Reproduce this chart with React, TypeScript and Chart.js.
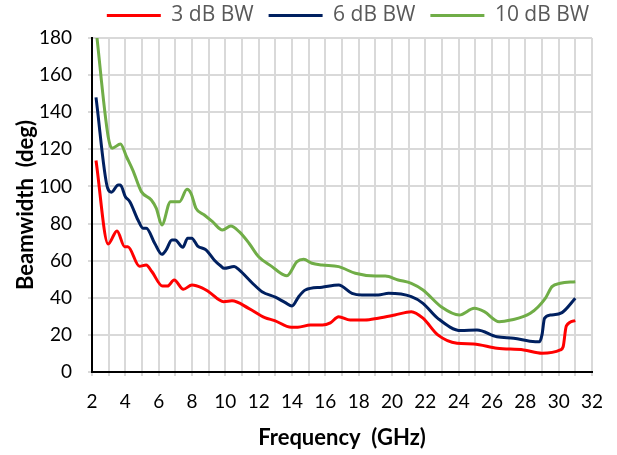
import React, { useEffect, useRef } from "react";
import { Chart, registerables } from "chart.js";

Chart.register(...registerables);

// 3 dB beamwidth
const freq3 = [2.24, 2.97, 3.5, 3.96, 4.15, 4.85, 5.25, 5.6, 6.23, 6.53, 6.93, 7.48, 8.0, 8.6, 9.0, 9.9, 10.4, 11.4, 12.37, 12.96, 13.95, 14.35, 15.1, 15.83, 16.3, 16.8, 17.49, 18.38, 19.17, 20.17, 21.16, 21.86, 22.75, 23.9, 24.9, 26.3, 27.9, 29.0, 30.1, 30.27, 30.46, 31.0];
const bw3 = [114, 69, 76, 67.5, 67.5, 57, 57.7, 54, 46.3, 46.3, 49.6, 44.6, 46.9, 45.4, 43.3, 37.9, 38.4, 34.3, 29.3, 27.7, 24.1, 24.1, 25.3, 25.3, 26.5, 29.8, 28, 28, 29, 30.7, 32.5, 29, 20, 15.5, 15.1, 12.8, 11.9, 10.1, 11.9, 13.6, 24.8, 27.7];

// 6 dB beamwidth
const freq6 = [2.24, 2.94, 3.17, 3.57, 3.7, 4.0, 4.27, 4.76, 5.06, 5.26, 5.76, 6.19, 6.45, 6.79, 6.99, 7.45, 7.74, 7.98, 8.34, 8.84, 9.33, 9.73, 9.93, 10.53, 10.83, 11.6, 12.2, 13.0, 13.6, 14.0, 14.4, 14.8, 15.8, 16.8, 17.6, 18.2, 19.17, 19.8, 21.16, 21.86, 22.75, 24.14, 25.1, 26.3, 27.3, 28.6, 28.85, 29.0, 29.15, 29.5, 30.2, 31.0];
const bw6 = [148, 99, 96.9, 100.8, 100.8, 94.5, 91.8, 81.9, 77.5, 77.5, 69.4, 63.4, 65.8, 71.2, 71.2, 67.2, 72.1, 72.1, 67.9, 65.8, 60.4, 57.1, 55.9, 56.8, 55, 48.1, 43.3, 40.3, 37.4, 35.6, 40.6, 44.2, 45.7, 46.9, 42.4, 41.5, 41.5, 42.4, 40.6, 37, 28.9, 22.3, 22.6, 19, 18.2, 16.3, 16.3, 20, 28.9, 30.7, 32, 39.7];

// 10 dB beamwidth
const freq10 = [2.24, 2.97, 3.21, 3.71, 4.07, 4.46, 4.96, 5.56, 5.86, 6.19, 6.71, 7.25, 7.7, 7.94, 8.24, 8.74, 9.23, 9.83, 10.33, 10.83, 11.42, 12.0, 12.8, 13.5, 13.7, 14.3, 14.7, 15.2, 15.8, 16.8, 17.8, 19.0, 19.6, 20.37, 21.16, 21.86, 22.95, 24.04, 24.94, 25.54, 26.43, 27.12, 28.3, 29.2, 29.6, 30.1, 31.0];
const bw10 = [185, 126.8, 120.6, 122.9, 116, 108.5, 97.2, 92.7, 88.2, 79.2, 91.8, 91.8, 98.5, 96.3, 88.2, 84.6, 81, 76.5, 78.7, 75.6, 69.4, 62.1, 56.8, 52.3, 51.9, 59.5, 60.7, 58.6, 57.7, 56.8, 53.2, 51.7, 51.7, 49.6, 47.8, 44.2, 35.2, 30.7, 34.3, 32.5, 27.1, 28, 31.6, 39.7, 46, 47.8, 48.7];

const seriesNames = ["3 dB BW", "6 dB BW", "10 dB BW"];
const seriesColors = ["#ff0000", "#002060", "#70ad47"];
const xTickLabels = [2, 4, 6, 8, 10, 12, 14, 16, 18, 20, 22, 24, 26, 28, 30, 32];
const yTickLabels = [0, 20, 40, 60, 80, 100, 120, 140, 160, 180];

const W = 617;
const H = 455;
const PLOT_LEFT = 92;
const PLOT_RIGHT = 595;
const PLOT_TOP = 38;
const PLOT_BOTTOM = 372;
const LAYOUT_TOP = -10;
const LEGEND_LEFT = 55;
const LEGEND_RIGHT = 641;

export default function App() {
  const ref = useRef<HTMLCanvasElement>(null);

  useEffect(() => {
    if (!ref.current) return;
    const toPts = (f: number[], v: number[]) => f.map((x, i) => ({ x, y: v[i] }));
    const legendFix = {
      id: "legendFix",
      beforeLayout(chart: any) {
        const lg = chart.legend;
        if (lg && !lg.__fixed) {
          const fit = lg.fit.bind(lg);
          lg.fit = function () {
            const mw = this.maxWidth;
            this.maxWidth = 2000;
            fit();
            this.maxWidth = mw;
            this.width = mw;
            this.height = PLOT_TOP - LAYOUT_TOP;
          };
          const draw = lg.draw.bind(lg);
          lg.draw = function () {
            const l = this.left;
            const r = this.right;
            this.left = LEGEND_LEFT;
            this.right = LEGEND_RIGHT;
            draw();
            this.left = l;
            this.right = r;
          };
          lg.__fixed = true;
        }
      },
    };
    const tickFont = { family: "Lato", size: 19 };
    const titleFont = { family: "Lato", size: 22, weight: "bold" as const };
    const chart = new Chart(ref.current, {
      type: "line",
      data: {
        datasets: [
          { label: seriesNames[0], data: toPts(freq3, bw3), borderColor: seriesColors[0], backgroundColor: seriesColors[0] },
          { label: seriesNames[1], data: toPts(freq6, bw6), borderColor: seriesColors[1], backgroundColor: seriesColors[1] },
          { label: seriesNames[2], data: toPts(freq10, bw10), borderColor: seriesColors[2], backgroundColor: seriesColors[2] },
        ].map((d) => ({ ...d, borderWidth: 3, pointRadius: 0, cubicInterpolationMode: "monotone" as const, fill: false })),
      },
      plugins: [legendFix],
      options: {
        animation: false,
        responsive: false,
        layout: { padding: { top: LAYOUT_TOP, left: 0, right: W - PLOT_RIGHT, bottom: 0 } },
        plugins: {
          tooltip: { enabled: false },
          legend: {
            display: true,
            position: "top",
            fullSize: false,
            labels: {
              boxWidth: 54,
              boxHeight: 3,
              padding: 15,
              color: "#595959",
              font: { family: "Open Sans", size: 21 },
              generateLabels: (c: any) =>
                Chart.defaults.plugins.legend.labels.generateLabels(c).map((l: any) => ({
                  ...l,
                  lineWidth: 0,
                  fillStyle: l.strokeStyle,
                })),
            },
          },
        },
        scales: {
          x: {
            type: "linear",
            min: 2,
            max: 32,
            afterFit: (s: any) => {
              s.height = H - PLOT_BOTTOM;
            },
            ticks: {
              stepSize: 1,
              autoSkip: false,
              maxRotation: 0,
              color: "#000",
              font: tickFont,
              padding: 14,
              callback: (v: any) => (xTickLabels.includes(Number(v)) ? String(v) : ""),
            },
            grid: { color: "#d9d9d9", lineWidth: 2, tickLength: 4, tickColor: "#d9d9d9" },
            border: { color: "#000", width: 2 },
            title: { display: true, text: "Frequency  (GHz)", color: "#000", font: titleFont, padding: { top: 0, bottom: 4 } },
          },
          y: {
            type: "linear",
            min: 0,
            max: 180,
            afterFit: (s: any) => {
              s.width = PLOT_LEFT;
            },
            ticks: {
              stepSize: 20,
              color: "#000",
              font: tickFont,
              padding: 16,
              callback: (v: any) => (yTickLabels.includes(Number(v)) ? String(v) : ""),
            },
            grid: { color: "#d9d9d9", lineWidth: 2, tickLength: 4, tickColor: "#d9d9d9" },
            border: { color: "#000", width: 2 },
            title: { display: true, text: "Beamwidth  (deg)", color: "#000", font: titleFont, padding: { top: 13, bottom: 0 } },
          },
        },
      },
    });
    return () => chart.destroy();
  }, []);

  return (
    <div style={{ position: "fixed", left: 0, top: 0, width: W, height: H, background: "#fff" }}>
      <canvas ref={ref} width={W} height={H} style={{ display: "block", width: W, height: H }} />
    </div>
  );
}
